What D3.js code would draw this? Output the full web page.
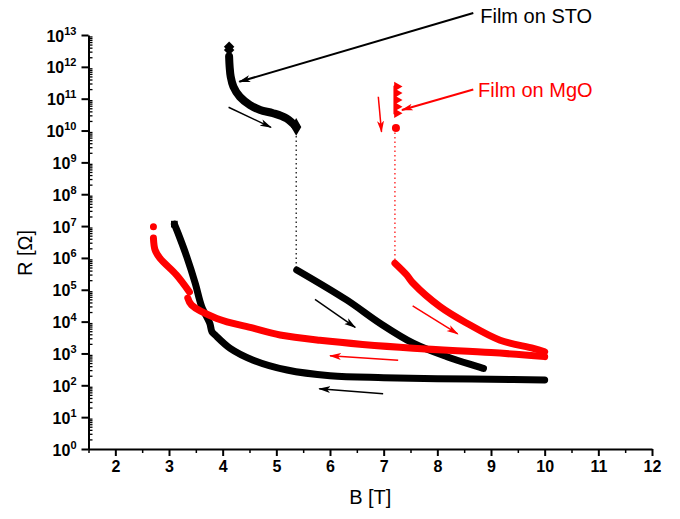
<!DOCTYPE html>
<html>
<head>
<meta charset="utf-8">
<script src="https://cdn.jsdelivr.net/npm/d3@7"></script>
<style>
body { margin: 0; background: #fff; }
svg { font-family: "Liberation Sans", Arial, sans-serif; }
.axis path, .axis line { stroke: #000; }
</style>
</head>
<body>
<div id="chart"></div>
<script>
// B [T] and R [Ohm], one pair of arrays per branch
// film on STO
const stoTopB = [4.12, 4.12];
const stoTopR = [4.3e12, 3.4e12];
const stoUpB = [4.12, 4.13, 4.15, 4.20, 4.32, 4.51, 4.70, 4.94, 5.19, 5.37];
const stoUpR = [2.1e12, 1.0e12, 4.9e11, 2.4e11, 1.15e11, 6.3e10, 4.4e10, 3.5e10, 2.4e10, 1.3e10];
const stoMidB = [5.38, 6.31, 6.93, 7.55, 8.18, 8.86];
const stoMidR = [4.2e5, 4.8e4, 8.9e3, 2.1e3, 7.9e2, 3.4e2];
const stoDownB = [10, 9, 8, 7, 6, 5.2, 4.57, 4.14, 3.86, 3.80, 3.76, 3.61, 3.49, 3.33, 3.17, 3.10];
const stoDownR = [148, 155, 162, 174, 200, 302, 617, 1450, 3800, 4800, 8900, 2.95e4, 1.58e5, 1.1e6, 5.9e6, 1.15e7];

// film on MgO
const mgoUpB = [7.21, 7.21, 7.21, 7.21, 7.21];
const mgoUpR = [2.4e11, 1.5e11, 9.1e10, 5.6e10, 3.5e10];
const mgoJumpR = 1.2e10;
const mgoMidB = [7.21, 7.43, 7.55, 8.05, 8.55, 9.17, 9.79, 10.0];
const mgoMidR = [6.8e5, 2.9e5, 1.6e5, 2.95e4, 8.9e3, 2.6e3, 1.45e3, 1.12e3];
// null = gap in the trace
const mgoDownB = [10, 9, 7.55, 5.81, 5.07, 4.57, 3.89, 3.42, 3.35, null, 3.38, 3.14, 2.83, 2.74, 2.71, null, 2.71];
const mgoDownR = [795, 1070, 1450, 2600, 3800, 6200, 1.26e4, 3.3e4, 5.5e4, null, 8.5e4, 2.9e5, 9.8e5, 1.8e6, 4.2e6, null, 9.5e6];

// axis ticks
const xTicks = [2, 3, 4, 5, 6, 7, 8, 9, 10, 11, 12];
const xMinor = [1.5, 2.5, 3.5, 4.5, 5.5, 6.5, 7.5, 8.5, 9.5, 10.5, 11.5];
const yPowers = d3.range(0, 14);

// direction arrows [B0, R0, B1, R1]
const blackArrows = [[4.11, 5.4e10, 4.90, 1.26e10], [5.72, 5.0e4, 6.47, 6.6e3], [6.99, 54, 5.80, 78]];
const redArrows = [[6.90, 1.15e11, 6.96, 9.1e9], [7.54, 3.1e4, 8.38, 4.1e3], [7.27, 617, 6.0, 851]];
// labels: text, text position, arrow from, arrow to
const labels = [
    {text: "Film on STO", color: "#000", at: [8.80, 2.4e13], from: [8.67, 4.9e13], to: [4.31, 3.4e11]},
    {text: "Film on MgO", color: "#f00", at: [8.76, 1.15e11], from: [8.67, 1.95e11], to: [7.34, 4.4e10]}
];

const width = 680, height = 519;
const margin = {top: 35, right: 28, bottom: 70, left: 88.5};

let svg = d3.select("#chart").append("svg")
    .attr("width", width)
    .attr("height", height);

let x = d3.scaleLinear().domain([1.5, 12]).range([margin.left, width - margin.right]);
let y = d3.scaleLog().domain([1, 1e13]).range([height - margin.bottom, margin.top]);

// arrow heads
let defs = svg.append("defs");
[["head-k", "#000"], ["head-r", "#f00"]].forEach(h => {
    defs.append("marker")
        .attr("id", h[0])
        .attr("viewBox", "0 -4 12 8")
        .attr("refX", 11).attr("refY", 0)
        .attr("markerUnits", "userSpaceOnUse")
        .attr("markerWidth", 12).attr("markerHeight", 8)
        .attr("orient", "auto")
      .append("path")
        .attr("d", "M0,-3.5L12,0L0,3.5L3,0Z")
        .attr("fill", h[1]);
});

// axes
let yMinor = [];
yPowers.slice(0, -1).forEach(p => {
    for (let k = 2; k < 10; k++) yMinor.push(k * Math.pow(10, p));
});

svg.append("g")
    .attr("class", "axis")
    .attr("transform", "translate(" + margin.left + ",0)")
    .call(d3.axisRight(y).tickValues(yMinor).tickSize(4).tickFormat(""))
    .call(g => g.select(".domain").remove())
    .selectAll("line").attr("stroke-width", 1.3);

let yAxis = svg.append("g")
    .attr("class", "axis")
    .attr("transform", "translate(" + margin.left + ",0)")
    .call(d3.axisLeft(y).tickValues(yPowers.map(p => Math.pow(10, p))).tickSize(7).tickSizeOuter(0).tickFormat(""));
yAxis.select(".domain").attr("stroke-width", 2);
yAxis.selectAll("line").attr("stroke-width", 2);

yAxis.selectAll(".tick").append("text")
    .attr("x", -12)
    .attr("y", 6)
    .attr("fill", "#000")
    .attr("text-anchor", "end")
    .attr("font-weight", "bold")
    .attr("font-size", 16)
    .each(function(d) {
        let t = d3.select(this);
        t.append("tspan").text("10");
        t.append("tspan").attr("dy", -7).attr("font-size", 11).text(Math.round(Math.log10(d)));
    });

svg.append("g")
    .attr("class", "axis")
    .attr("transform", "translate(0," + y(1) + ")")
    .call(d3.axisBottom(x).tickValues(xMinor).tickSize(4).tickFormat(""))
    .call(g => g.select(".domain").remove())
    .selectAll("line").attr("stroke-width", 1.5);

let xAxis = svg.append("g")
    .attr("class", "axis")
    .attr("transform", "translate(0," + y(1) + ")")
    .call(d3.axisBottom(x).tickValues(xTicks).tickSize(7).tickSizeOuter(0).tickPadding(5));
xAxis.select(".domain").attr("stroke-width", 2);
xAxis.selectAll("line").attr("stroke-width", 2);
xAxis.selectAll("text")
    .attr("fill", "#000")
    .attr("font-weight", "bold")
    .attr("font-size", 16)
    .attr("font-family", "Liberation Sans, Arial, sans-serif");

// axis titles
svg.append("text")
    .attr("x", (x(1.5) + x(12)) / 2)
    .attr("y", 504)
    .attr("text-anchor", "middle")
    .attr("font-size", 20)
    .text("B [T]");

svg.append("text")
    .attr("transform", "translate(32," + 253 + ") rotate(-90)")
    .attr("text-anchor", "middle")
    .attr("font-size", 20)
    .text("R [\u03A9]");

// jumps between branches
svg.append("line")
    .attr("x1", x(5.37)).attr("x2", x(5.37))
    .attr("y1", y(stoUpR[stoUpR.length - 1])).attr("y2", y(stoMidR[0]))
    .attr("stroke", "#000").attr("stroke-width", 1.2).attr("stroke-dasharray", "1.5,3");
svg.append("line")
    .attr("x1", x(7.21)).attr("x2", x(7.21))
    .attr("y1", y(mgoJumpR)).attr("y2", y(mgoMidR[0]))
    .attr("stroke", "#f00").attr("stroke-width", 1.2).attr("stroke-dasharray", "1.5,3");

// traces
let line = d3.line()
    .defined(d => d[0] !== null)
    .x(d => x(d[0]))
    .y(d => y(d[1]))
    .curve(d3.curveCatmullRom);

function trace(bs, rs, color, w) {
    svg.append("path")
        .datum(bs.map((b, i) => [b, rs[i]]))
        .attr("d", line)
        .attr("fill", "none")
        .attr("stroke", color)
        .attr("stroke-width", w)
        .attr("stroke-linecap", "round")
        .attr("stroke-linejoin", "round");
}

trace(stoUpB, stoUpR, "#000", 8);
trace(stoMidB, stoMidR, "#000", 7);
trace(stoDownB, stoDownR, "#000", 7);
trace(mgoMidB, mgoMidR, "#f00", 7);
trace(mgoDownB, mgoDownR, "#f00", 7);
trace(mgoUpB, mgoUpR, "#f00", 3);

// end point symbols
svg.selectAll(".sto-top")
    .data(stoTopB.map((b, i) => [b, stoTopR[i]]))
    .enter().append("path")
    .attr("transform", d => "translate(" + x(d[0]) + "," + y(d[1]) + ")")
    .attr("d", d3.symbol(d3.symbolDiamond2 || d3.symbolDiamond, 70))
    .attr("fill", "#000");

svg.append("path")
    .attr("transform", "translate(" + x(stoUpB[stoUpB.length - 1]) + "," + y(stoUpR[stoUpR.length - 1]) + ")")
    .attr("d", d3.symbol(d3.symbolDiamond, 90))
    .attr("fill", "#000");

svg.append("path")
    .attr("transform", "translate(" + x(stoDownB[stoDownB.length - 1]) + "," + y(stoDownR[stoDownR.length - 1]) + ")")
    .attr("d", d3.symbol(d3.symbolSquare, 45))
    .attr("fill", "#000");

svg.selectAll(".mgo-up")
    .data(mgoUpB.map((b, i) => [b, mgoUpR[i]]))
    .enter().append("path")
    .attr("transform", d => "translate(" + (x(d[0]) + 2) + "," + y(d[1]) + ") rotate(90)")
    .attr("d", d3.symbol(d3.symbolTriangle, 40))
    .attr("fill", "#f00");

svg.append("circle")
    .attr("cx", x(7.21) + 1)
    .attr("cy", y(mgoJumpR))
    .attr("r", 4)
    .attr("fill", "#f00");

// direction arrows
function arrow(a, color, head, w) {
    svg.append("line")
        .attr("x1", x(a[0])).attr("y1", y(a[1]))
        .attr("x2", x(a[2])).attr("y2", y(a[3]))
        .attr("stroke", color)
        .attr("stroke-width", w)
        .attr("marker-end", "url(#" + head + ")");
}
blackArrows.forEach(a => arrow(a, "#000", "head-k", 1.5));
redArrows.forEach(a => arrow(a, "#f00", "head-r", 1.5));

// labels with pointers
labels.forEach(l => {
    arrow([l.from[0], l.from[1], l.to[0], l.to[1]], l.color, l.color === "#000" ? "head-k" : "head-r", 2);
    svg.append("text")
        .attr("x", x(l.at[0]))
        .attr("y", y(l.at[1]))
        .attr("fill", l.color)
        .attr("font-size", 20)
        .text(l.text);
});
</script>
</body>
</html>
